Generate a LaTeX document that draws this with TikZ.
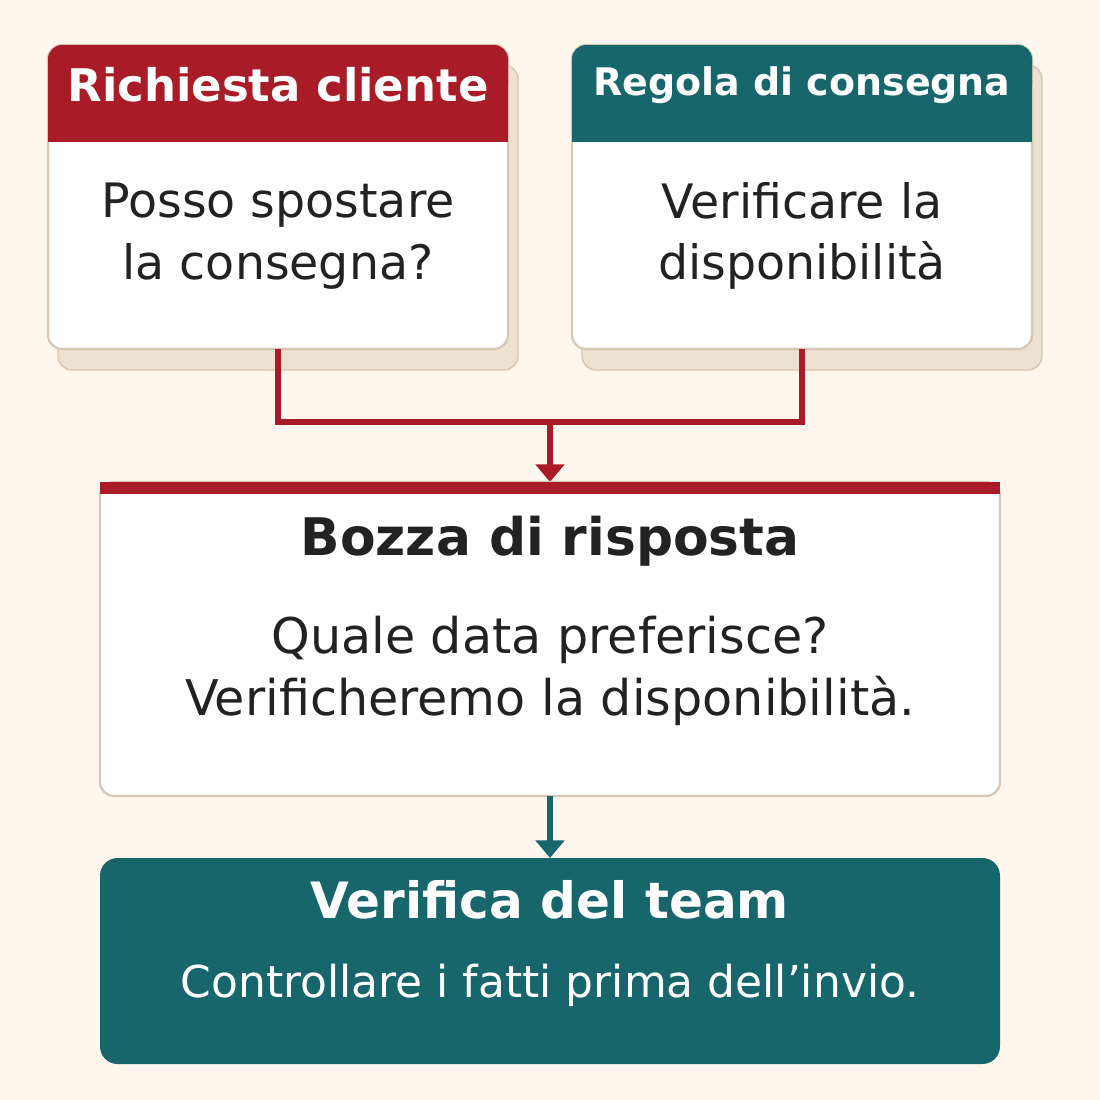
\documentclass[tikz,border=0pt]{standalone}
\usepackage{fontspec}
\setmainfont{DejaVu Sans}
\usetikzlibrary{arrows.meta,positioning,calc}
\definecolor{bgcream}{HTML}{FFF7EE}
\definecolor{brickred}{HTML}{A91B26}
\definecolor{deepteal}{HTML}{17666B}
\definecolor{edgebeige}{HTML}{D6C6B2}
\definecolor{shadowbeige}{HTML}{EDE1D2}
\definecolor{inktext}{HTML}{222222}
\tikzset{
  card/.style={draw=edgebeige,line width=1.2pt,fill=white,rounded corners=8pt},
  shade/.style={draw=edgebeige,line width=0.8pt,fill=shadowbeige,rounded corners=8pt},
  head/.style={font=\bfseries\fontsize{20}{24}\selectfont,text=white},
  body/.style={font=\fontsize{27}{35}\selectfont,text=inktext,align=center},
  link/.style={draw=brickred,line width=3.4pt},
  tip/.style={-{Triangle[width=16pt,length=10pt]}}
}
\begin{document}
\begin{tikzpicture}[x=0.02cm,y=-0.02cm]
  \useasboundingbox[fill=bgcream] (0,0) rectangle (1100,1100);
  % top cards
  \foreach \name/\xl/\colr/\ttl/\txt/\fs in {ask/48/brickred/Richiesta cliente/Posso spostare\\la consegna?/25.6,
      rule/572/deepteal/Regola di consegna/Verificare la\\disponibilità/21.6} {
    \fill[shade] (\xl+10,65) rectangle (\xl+470,370);
    \draw[card] (\xl,45) rectangle (\xl+460,349);
    \fill[\colr,rounded corners=8pt] (\xl,45) rectangle (\xl+460,100);
    \fill[\colr] (\xl,80) rectangle (\xl+460,142);
    \node[head,font=\bfseries\fontsize{\fs}{28}\selectfont] (\name-t) at (\xl+230,85) {\ttl};
    \node[body] (\name-b) at (\xl+230,236) {\txt};
    \coordinate (\name-o) at (\xl+230,349);
  }
  % merge
  \coordinate (join) at (550,422);
  \draw[link] (ask-o) |- (rule-o |- join) -- (rule-o);
  \draw[link,tip,draw=brickred,color=brickred] (join) -- (550,482);
  % draft
  \draw[card] (100,482) rectangle (1000,796);
  \fill[brickred] (100,482) rectangle (1000,494);
  \node[font=\bfseries\fontsize{29.5}{32}\selectfont,text=inktext] (draft-t) at (550,541) {Bozza di risposta};
  \node[body,font=\fontsize{28}{35}\selectfont] (draft-b) at (550,671) {Quale data preferisce?\\Verificheremo la disponibilità.};
  \coordinate (draft-o) at (550,796);
  % team check
  \fill[deepteal,rounded corners=10pt] (100,858) rectangle (1000,1064);
  \coordinate (team-i) at (550,858);
  \draw[line width=3.4pt,deepteal,tip,color=deepteal] (draft-o) -- (team-i);
  \node[head,font=\bfseries\fontsize{28.5}{32}\selectfont] (team-t) at (550,900) {Verifica del team};
  \node[font=\fontsize{25}{30}\selectfont,text=white] (team-b) at (550,985) {Controllare i fatti prima dell’invio.};
\end{tikzpicture}
\end{document}
